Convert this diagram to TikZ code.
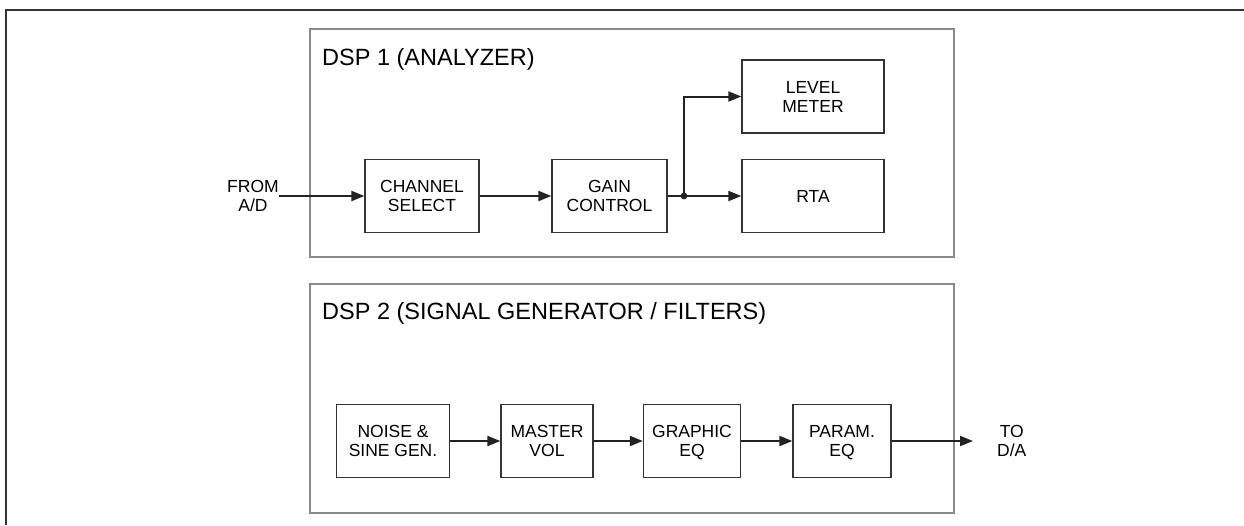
\documentclass[tikz,border=0pt]{standalone}
\usepackage{fontspec}
\setmainfont{Liberation Sans}
\usetikzlibrary{arrows.meta, positioning}

\definecolor{framegray}{HTML}{333333}
\definecolor{dspgray}{HTML}{8A8A8A}
\definecolor{wire}{HTML}{222222}

\begin{document}
\begin{tikzpicture}[
    x=1pt, y=-1pt,
    block/.style={draw=framegray, line width=1.3pt, minimum height=73pt, inner sep=0pt, text depth=0pt, align=center, font=\fontsize{17.5}{19}\selectfont},
    dsp/.style={draw=dspgray, line width=2.5pt, inner sep=0pt},
    title/.style={anchor=base west, inner sep=0pt, font=\fontsize{23.5}{28}\selectfont},
    label/.style={inner sep=0pt, align=center, font=\fontsize{17.5}{19}\selectfont},
    sig/.style={-{Triangle[length=13pt, width=10pt]}, line width=2pt, wire}
]

\useasboundingbox (0,0) rectangle (1244,525);

% ramme
\draw[line width=2pt, framegray] (6,525) -- (6,10) -- (1244,10);

% DSP omraader
\node[dsp, minimum width=644pt, minimum height=228pt] (dspone) at (632,143) {};
\node[dsp, minimum width=644pt, minimum height=229pt] (dsptwo) at (632,398.5) {};
\node[title] (titleone) at (322,65) {DSP 1 (ANALYZER)};
\node[title] (titletwo) at (322,319) {DSP 2 (SIGNAL GENERATOR / FILTERS)};

% DSP 1 blokke
\node[label] (from) at (253,196) {FROM\\A/D};
\node[block, minimum width=114pt] (chsel) at (422,196) {CHANNEL\\SELECT};
\node[block, minimum width=115pt] (gain) at (609.5,196) {GAIN\\CONTROL};
\node[block, minimum width=142pt] (level) at (813,96.5) {LEVEL\\METER};
\node[block, minimum width=142pt] (rta) at (813,196) {RTA};
\coordinate (split) at (684,196);

% DSP 2 blokke
\node[block, minimum width=113pt] (noise) at (393,441) {NOISE \&\\SINE GEN.};
\node[block, minimum width=92pt] (mvol) at (547,441) {MASTER\\VOL};
\node[block, minimum width=97pt] (geq) at (692,441) {GRAPHIC\\EQ};
\node[block, minimum width=98pt] (peq) at (842,441) {PARAM.\\EQ};
\coordinate (daout) at (973,441);
\node[label, right=24pt of daout] (to) {TO\\D/A};

% forbindelser DSP 1
\draw[sig] (from.east) -- (chsel);
\draw[sig] (chsel) -- (gain);
\draw[sig] (gain) -- (rta);
\draw[sig] (split) |- (level);
\fill[wire] (split) circle (3.4pt);

% forbindelser DSP 2
\draw[sig] (noise) -- (mvol);
\draw[sig] (mvol) -- (geq);
\draw[sig] (geq) -- (peq);
\draw[sig] (peq) -- (daout);

\end{tikzpicture}
\end{document}
